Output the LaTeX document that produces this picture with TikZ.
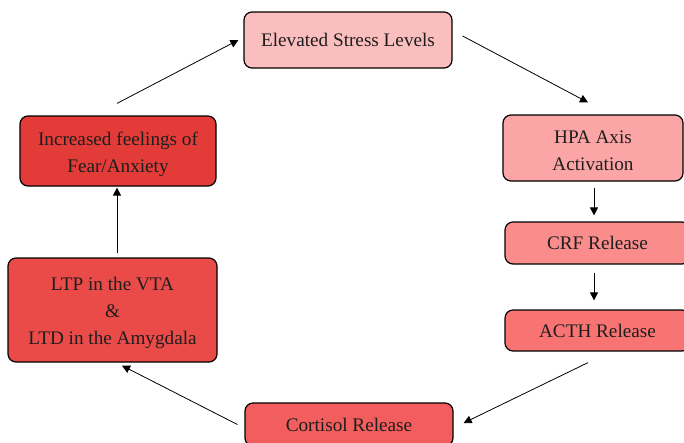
\documentclass[tikz,border=0pt]{standalone}
\usepackage{fontspec}
\setmainfont{Liberation Serif}
\usetikzlibrary{arrows.meta,calc}
\definecolor{cElev}{HTML}{FBBEBF}
\definecolor{cHPA}{HTML}{FBA5A6}
\definecolor{cCRF}{HTML}{FA8C8C}
\definecolor{cACTH}{HTML}{F87473}
\definecolor{cCort}{HTML}{F15E5D}
\definecolor{cLTP}{HTML}{EA4B49}
\definecolor{cInc}{HTML}{E33C38}
\definecolor{txt}{HTML}{1E1E1E}
\begin{document}
\begin{tikzpicture}[x=1pt,y=-1pt,
  box/.style={draw=black, line width=1.2pt, rounded corners=8pt, text=txt,
    font=\fontsize{19.2}{27}\selectfont, align=center, inner sep=0pt},
  arr/.style={draw=black, line width=0.8pt, -{Triangle[length=8pt,width=8pt]}}]
\clip (0,0) rectangle (684,442);
\fill[white] (0,0) rectangle (684,442);
\node[box, fill=cElev, minimum width=208pt, minimum height=56pt] (elev) at (348,40) {Elevated Stress Levels};
\node[box, fill=cHPA, minimum width=180pt, minimum height=66pt, text height=44.5pt, text depth=0pt] (hpa) at (593,148) {HPA Axis\\Activation};
\node[box, fill=cCRF, minimum width=185pt, minimum height=42pt] (crf) at (597.5,243) {CRF Release};
\node[box, fill=cACTH, minimum width=185pt, minimum height=41pt] (acth) at (597.5,330.5) {ACTH Release};
\node[box, fill=cCort, minimum width=208pt, minimum height=43pt] (cort) at (349,424.5) {Cortisol Release};
\node[box, fill=cLTP, minimum width=209pt, minimum height=104pt, text height=72pt, text depth=4pt] (ltp) at (112.5,310) {LTP in the VTA\\\&\\LTD in the Amygdala};
\node[box, fill=cInc, minimum width=196pt, minimum height=70pt, text height=46.5pt, text depth=4pt] (inc) at (118,151) {Increased feelings of\\Fear/Anxiety};
\coordinate (vx) at (594,0);
\coordinate (lx) at (117,0);
\draw[arr] ($(elev.east)+(10,-4)$) -- ($(hpa.north)+(-5,-12)$);
\draw[arr] ($(vx |- hpa.south)+(0,6)$) -- ($(vx |- crf.north)+(0,-6)$);
\draw[arr] ($(vx |- crf.south)+(0,8)$) -- ($(vx |- acth.north)+(0,-9)$);
\draw[arr] ($(acth.south)+(-9.5,11)$) -- ($(cort.east)+(10,-1.5)$);
\draw[arr] ($(cort.west)+(-7,0)$) -- ($(ltp.south)+(9.5,3)$);
\draw[arr] ($(lx |- ltp.north)+(0,-4)$) -- ($(lx |- inc.south)+(0,1)$);
\draw[arr] ($(inc.north)+(-1,-12)$) -- ($(elev.west)+(-5,0)$);
\end{tikzpicture}
\end{document}
